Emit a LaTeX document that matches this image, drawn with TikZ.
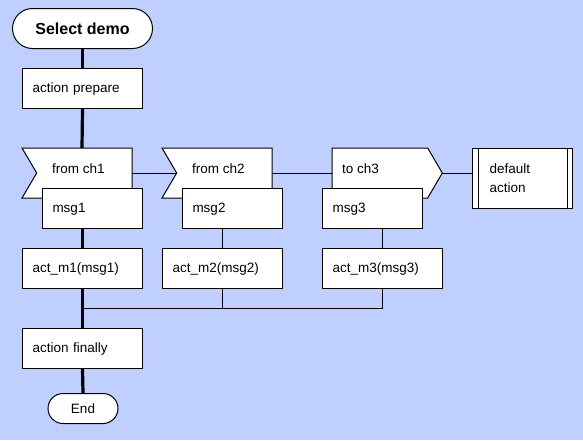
\documentclass[tikz,border=0pt]{standalone}
\usepackage{fontspec}
\setmainfont{Liberation Sans}
\definecolor{bgblue}{RGB}{191,207,255}
\begin{document}
\begin{tikzpicture}[x=1pt,y=-1pt,
  every node/.style={font=\fontsize{13.5}{19}\selectfont, inner sep=0pt},
  box/.style={draw=black, fill=white, line width=1pt, minimum height=40pt, inner xsep=10pt, align=left, anchor=north west},
  onebox/.style={box, text height=9.5pt, text depth=2.5pt},
  term/.style={draw=black, fill=white, line width=1pt, rounded corners=#1, anchor=north west},
  sig/.style={draw=black, fill=white, line width=1pt},
  flow/.style={line width=3.2pt},
  conn/.style={line width=1pt},
  lbl/.style={anchor=west}]
\fill[bgblue] (0,0) rectangle (583,440);
\useasboundingbox (0,0) rectangle (583,440);

% start terminal
\node[term=20pt, minimum width=140pt, minimum height=40pt, font=\fontsize{16}{19}\selectfont\bfseries] (start) at (12,8) {Select demo};
\node[onebox, text width=100pt] (prep) at (22,68) {action prepare};

% signal shapes
\draw[sig] (22,148) -- (132,148) -- (132,198) -- (22,198) -- (36.7,173) -- cycle;
\coordinate (r1out) at (132,173);
\coordinate (r1top) at (82,148);
\node[lbl] (r1) at (52,168.5) {from ch1};
\draw[sig] (162,148) -- (272,148) -- (272,198) -- (162,198) -- (176.7,173) -- cycle;
\coordinate (r2in) at (176.7,173);
\coordinate (r2out) at (272,173);
\node[lbl] (r2) at (192,168.5) {from ch2};
\draw[sig] (332,148) -- (427.7,148) -- (442.3,173) -- (427.7,198) -- (332,198) -- cycle;
\coordinate (s3in) at (332,173);
\coordinate (s3out) at (442.3,173);
\node[lbl] (s3) at (342,168.5) {to ch3};

% default action
\node[box, inner xsep=17pt, text width=66pt, minimum height=60pt] (def) at (472,148) {default\\action};
\draw[conn] ([xshift=6pt]def.north west) -- ([xshift=6pt]def.south west);
\draw[conn] ([xshift=-6pt]def.north east) -- ([xshift=-6pt]def.south east);

% messages
\node[onebox, text width=80pt] (m1) at (42,188) {msg1};
\node[onebox, text width=80pt] (m2) at (182,188) {msg2};
\node[onebox, text width=80pt] (m3) at (322,188) {msg3};

% actions
\node[onebox, text width=100pt] (a1) at (22,248) {act\_m1(msg1)};
\node[onebox, text width=100pt] (a2) at (162,248) {act\_m2(msg2)};
\node[onebox, text width=100pt] (a3) at (322,248) {act\_m3(msg3)};

\node[onebox, text width=100pt] (fin) at (22,328) {action finally};
\node[term=15pt, minimum width=70pt, minimum height=30pt] (end) at (47.5,393) {End};

\coordinate (join) at (82,308);

% connectors
\draw[flow] (start.south) -- (prep.north);
\draw[flow] (prep.south) -- (r1top);
\draw[flow] (m1.south -| a1.north) -- (a1.north);
\draw[flow] (a1.south) -- (fin.north);
\draw[flow] (fin.south) -- (end.north);
\draw[conn] (r1out) -- (r2in);
\draw[conn] (r2out) -- (s3in);
\draw[conn] (s3out) -- (s3out -| def.west);
\draw[conn] (m2.south -| a2.north) -- (a2.north);
\draw[conn] (m3.south -| a3.north) -- (a3.north);
\draw[conn] (a2.south) -- (a2.south |- join);
\draw[conn] (a3.south) |- (join);
\end{tikzpicture}
\end{document}
